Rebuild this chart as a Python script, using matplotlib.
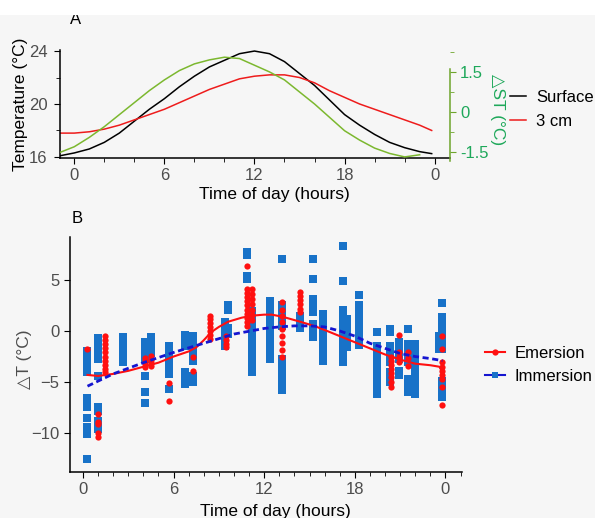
import matplotlib
matplotlib.use("Agg")
import matplotlib.pyplot as plt
from matplotlib.lines import Line2D
from matplotlib.patches import Rectangle
from matplotlib.ticker import MultipleLocator

plt.rcParams["font.family"] = ["Liberation Sans", "DejaVu Sans"]

# ---- panel A: daily temperature cycle ----
hours_a = [-0.9, 0, 1, 2, 3, 4, 5, 6, 7, 8, 9, 10, 11, 12, 13, 14, 15, 16,
           17, 18, 19, 20, 21, 22, 23, 23.8]
surface = [16.1, 16.3, 16.6, 17.1, 17.8, 18.7, 19.6, 20.4, 21.3, 22.1, 22.8,
           23.3, 23.8, 24.0, 23.8, 23.2, 22.3, 21.4, 20.3, 19.2, 18.4, 17.7,
           17.1, 16.7, 16.4, 16.25]
depth_3cm = [17.8, 17.8, 17.9, 18.1, 18.4, 18.8, 19.2, 19.6, 20.1, 20.6, 21.1,
             21.5, 21.9, 22.1, 22.2, 22.2, 22.0, 21.6, 21.0, 20.5, 20.0, 19.6,
             19.2, 18.8, 18.4, 18.0]
hours_st = [-0.9, 0, 1, 2, 3, 4, 5, 6, 7, 8, 9, 10, 11, 12, 13, 14, 15, 16,
            17, 18, 19, 20, 21, 22, 23]
delta_st = [-1.5, -1.3, -0.95, -0.55, -0.1, 0.35, 0.8, 1.2, 1.55, 1.8, 1.95,
            2.05, 2.0, 1.75, 1.5, 1.2, 0.75, 0.3, -0.2, -0.7, -1.05, -1.35,
            -1.55, -1.68, -1.6]

# ---- panel B: delta T by time of day ----
emer_times = [0.3, 1.0, 1.45, 4.1, 4.5, 5.7, 7.3, 8.4, 9.5, 10.85, 11.2, 13.2,
              14.4, 20.4, 20.9, 21.5, 23.8]
emer_values = [
    [-1.8],
    [-8.1, -8.9, -9.1, -10.0, -10.4],
    [-0.5, -0.9, -1.3, -1.7, -2.1, -2.5, -2.9, -3.3, -3.7, -4.0],
    [-2.6, -2.9, -3.2, -3.5],
    [-2.4, -2.8, -3.1, -3.4],
    [-5.1, -6.9],
    [-2.5, -3.9],
    [1.5, 1.2, 0.8, 0.4, 0.0, -0.4, -0.8],
    [-0.5, -0.9, -1.3, -1.6],
    [6.4, 4.1, 3.7, 3.3, 2.9, 2.5, 2.1, 1.7, 1.3, 0.9, 0.5],
    [4.1, 3.6, 3.1, 2.6, 2.1, 1.6, 1.1],
    [2.8, 2.1, 1.5, 0.9, 0.2, -0.5, -1.2, -1.9, -2.5],
    [3.8, 3.4, 3.0, 2.6, 2.2, 1.9],
    [-2.5, -2.9, -3.3, -3.7, -4.1, -4.5, -5.0, -5.5],
    [-0.4, -2.1, -2.5, -3.0],
    [-2.1, -2.6, -3.4],
    [-0.5, -1.8, -3.0, -3.5, -3.9, -4.3, -4.7, -5.5, -7.2],
]

imm_times = [0.3, 1.0, 2.65, 4.1, 4.5, 5.7, 6.75, 7.3, 9.4, 9.6, 10.85, 11.2,
             12.4, 13.2, 14.4, 15.25, 15.9, 17.2, 17.5, 18.3, 19.5, 20.3,
             20.9, 21.5, 22.0, 23.6, 23.8]
imm_values = [
    [-2.0, -2.4, -2.8, -3.2, -3.6, -4.0, -6.6, -7.0, -7.4, -8.5, -9.4, -9.8,
     -10.1, -12.5],
    [-0.7, -1.1, -1.5, -1.9, -2.3, -2.7, -4.4, -7.4, -7.8, -8.8, -9.2, -9.6],
    [-0.6, -1.0, -1.4, -1.8, -2.2, -2.6, -3.0],
    [-1.1, -1.5, -1.9, -2.3, -2.7, -4.4, -6.0, -7.0],
    [-0.6, -1.0, -1.4, -1.8, -2.2],
    [-1.5, -1.9, -2.3, -2.7, -3.1, -3.5, -3.9, -4.2, -5.7],
    [-0.4, -0.8, -1.2, -1.5, -4.0, -4.4, -4.8, -5.2],
    [-0.5, -0.9, -1.3, -1.7, -2.1, -2.5, -2.9, -4.4, -5.0],
    [0.9, 0.5, 0.1, -0.3, -0.7, -1.1, -1.5],
    [2.5, 2.1, 0.3, -0.3],
    [7.7, 7.4, 5.4, 5.1],
    [2.0, 1.6, 1.2, 0.8, 0.4, 0.0, -0.4, -0.8, -1.2, -1.6, -2.0, -2.4, -2.8,
     -3.2, -3.6, -4.0],
    [2.9, 2.5, 2.1, 1.7, 1.3, 0.9, 0.5, 0.1, -0.3, -0.7, -1.1, -1.5, -1.9,
     -2.3, -2.7],
    [7.0, 2.5, 2.1, 1.7, 1.3, 0.9, 0.5, -2.7, -3.1, -3.5, -3.9, -4.3, -4.7,
     -5.3, -5.8],
    [1.5, 1.1, 0.7, 0.3],
    [7.0, 5.1, 3.1, 2.7, 2.3, 1.9, 0.7, 0.3, -0.1, -0.6],
    [1.7, 1.3, 0.9, 0.5, 0.1, -0.3, -0.8, -1.5, -1.9, -2.3, -2.9],
    [8.3, 4.9, 2.1, 1.7, 1.3, 0.9, 0.5, 0.1, -0.3, -0.7, -1.1, -1.5, -1.9,
     -2.3, -2.7, -3.0],
    [1.2, 0.8, 0.4, 0.0, -0.4, -0.8, -1.2, -1.6],
    [3.5, 2.5, 2.1, 1.7, 1.3, 0.9, 0.2, -0.2, -0.6, -1.0, -1.4],
    [-0.1, -1.5, -1.9, -2.3, -2.7, -3.4, -3.9, -4.4, -5.2, -5.7, -6.2],
    [0.2, -0.1, -1.5, -1.9, -2.3, -2.7, -3.0, -4.0, -4.5, -5.0],
    [-1.1, -1.5, -1.9, -2.3, -2.7, -3.9, -4.3],
    [0.2, -1.3, -1.7, -2.1, -2.5, -3.0, -4.7, -5.1, -5.5, -6.0],
    [-1.3, -1.7, -2.1, -2.5, -2.9, -3.3, -3.7, -4.5, -4.9, -5.3, -5.7, -6.2],
    [-0.5, -0.9, -1.3, -1.8],
    [2.7, 1.4, 1.0, 0.6, 0.2, -0.2, -0.6, -1.0, -1.4, -1.8, -4.9, -5.3, -5.7,
     -6.1, -6.5],
]

emer_fit_t = [0.3, 1, 2, 3, 4, 5, 6, 7, 7.5, 8, 8.5, 9, 9.6, 10.5, 11.2, 12,
              12.5, 13.2, 14.4, 15.3, 16, 17, 18, 19, 20, 21, 22, 23, 23.6, 23.8]
emer_fit = [-4.3, -4.4, -4.2, -3.9, -3.5, -3.1, -2.5, -2.0, -1.6, -0.9, -0.1,
            0.4, 0.9, 1.3, 1.5, 1.6, 1.6, 1.4, 0.9, 0.5, 0.1, -0.5, -1.1, -1.7,
            -2.3, -2.8, -3.2, -3.35, -3.5, -4.0]
imm_fit_t = [0.3, 2, 4, 6, 8, 10, 12, 13, 14, 15, 16, 17, 18, 19, 20, 21, 22,
             23, 23.8]
imm_fit = [-5.4, -4.2, -3.1, -2.1, -1.2, -0.3, 0.25, 0.4, 0.5, 0.5, 0.4, 0.0,
           -0.5, -1.2, -1.7, -2.2, -2.5, -2.7, -2.9]

hour_ticks = [0, 6, 12, 18, 24]
hour_labels = ["0", "6", "12", "18", "0"]

BG = "#f6f6f6"
TICK_GREY = "#4d4d4d"
RED = "#ff1010"
BLUE_PTS = "#1872c8"
BLUE_LINE = "#1515d0"
GREEN_LINE = "#7cb82f"
GREEN_TEXT = "#1ea85a"


def style_axis(ax):
    ax.set_facecolor(BG)
    for side in ["top", "right"]:
        ax.spines[side].set_visible(False)
    for side in ["left", "bottom"]:
        ax.spines[side].set_linewidth(1.1)
    ax.tick_params(which="both", direction="out", colors="black",
                   labelcolor=TICK_GREY, labelsize=12)
    ax.tick_params(which="major", length=4)
    ax.tick_params(which="minor", length=3)
    ax.set_xticks(hour_ticks)
    ax.set_xticklabels(hour_labels)


fig = plt.figure(figsize=(5.95, 5.18), dpi=100, facecolor=BG)
fig.add_artist(Rectangle((0, 0.972), 1, 0.03, transform=fig.transFigure,
                         facecolor="white", edgecolor="none"))

# panel A
ax_a = fig.add_axes([0.1008, 0.695, 0.655, 0.2085])
style_axis(ax_a)
ax_a.plot(hours_a, surface, color="black", lw=1.1, label="Surface")
ax_a.plot(hours_a, depth_3cm, color="#ee1c1c", lw=1.1, label="3 cm")
ax_a.set_xlim(-0.95, 25.0)
ax_a.set_ylim(15.92, 24.08)
ax_a.set_yticks([16, 20, 24])
ax_a.yaxis.set_minor_locator(MultipleLocator(2))
ax_a.xaxis.set_minor_locator(MultipleLocator(2))
ax_a.tick_params(axis="y", pad=5)
ax_a.set_ylabel("Temperature (°C)", fontsize=12.5, color="black")
ax_a.yaxis.set_label_coords(-0.082, 0.5)
ax_a.set_xlabel("Time of day (hours)", fontsize=12.5, color="black")
ax_a.xaxis.set_label_coords(0.55, -0.265)
ax_a.text(0.025, 1.24, "A", transform=ax_a.transAxes, fontsize=12)

ax_st = ax_a.twinx()
ax_st.plot(hours_st, delta_st, color=GREEN_LINE, lw=1.1)
ax_st.set_ylim(-1.72, 2.32)
for side in ["top", "left", "bottom"]:
    ax_st.spines[side].set_visible(False)
ax_st.spines["right"].set_color("#6ea52c")
ax_st.spines["right"].set_linewidth(1.1)
ax_st.spines["right"].set_bounds(-1.85, 1.62)
ax_st.set_yticks([-1.5, 0, 1.5])
ax_st.set_yticklabels(["-1.5", "0", "1.5"])
ax_st.yaxis.set_minor_locator(MultipleLocator(0.75))
ax_st.tick_params(which="both", direction="out", colors="#6ea52c",
                  labelcolor=GREEN_TEXT, labelsize=12)
ax_st.tick_params(which="major", length=4)
ax_st.tick_params(which="minor", length=3)
ax_st.set_ylabel("△ST (°C)", fontsize=12.5, color=GREEN_TEXT, rotation=270)
ax_st.yaxis.set_label_coords(1.143, 0.445)

ax_a.legend(loc="center left", bbox_to_anchor=(1.115, 0.45), frameon=False,
            fontsize=12, handlelength=1.0, handletextpad=0.6, labelspacing=0.5)

# panel B
ax_b = fig.add_axes([0.1176, 0.0888, 0.659, 0.4537])
style_axis(ax_b)
for t, vals in zip(imm_times, imm_values):
    ax_b.plot([t] * len(vals), vals, linestyle="none", marker="s",
              markersize=5.2, color=BLUE_PTS, markeredgewidth=0)
for t, vals in zip(emer_times, emer_values):
    ax_b.plot([t] * len(vals), vals, linestyle="none", marker="o",
              markersize=4.5, color=RED, markeredgewidth=0)
ax_b.plot(emer_fit_t, emer_fit, color=RED, lw=1.5)
ax_b.plot(imm_fit_t, imm_fit, color=BLUE_LINE, lw=2, dashes=(2.2, 1.3))
ax_b.set_xlim(-0.86, 25.1)
ax_b.set_ylim(-13.8, 9.2)
ax_b.set_yticks([-10, -5, 0, 5])
ax_b.xaxis.set_minor_locator(MultipleLocator(1))
ax_b.set_ylabel("△T (°C)", fontsize=12.5, color=TICK_GREY)
ax_b.yaxis.set_label_coords(-0.097, 0.48)
ax_b.set_xlabel("Time of day (hours)", fontsize=12.5, color="black")
ax_b.xaxis.set_label_coords(0.523, -0.138)
ax_b.text(0.005, 1.06, "B", transform=ax_b.transAxes, fontsize=12)

handles = [
    Line2D([], [], color=RED, lw=1.5, marker="o", markersize=4.5,
           markeredgewidth=0),
    Line2D([], [], color=BLUE_LINE, lw=1.5, marker="s", markersize=5,
           markerfacecolor=BLUE_PTS, markeredgewidth=0),
]
ax_b.legend(handles, ["Emersion", "Immersion"], loc="center left",
            bbox_to_anchor=(1.02, 0.455), frameon=False, fontsize=12,
            handlelength=1.2, handletextpad=0.6, labelspacing=0.5)

fig.savefig("out.png", dpi=100, facecolor=BG)
